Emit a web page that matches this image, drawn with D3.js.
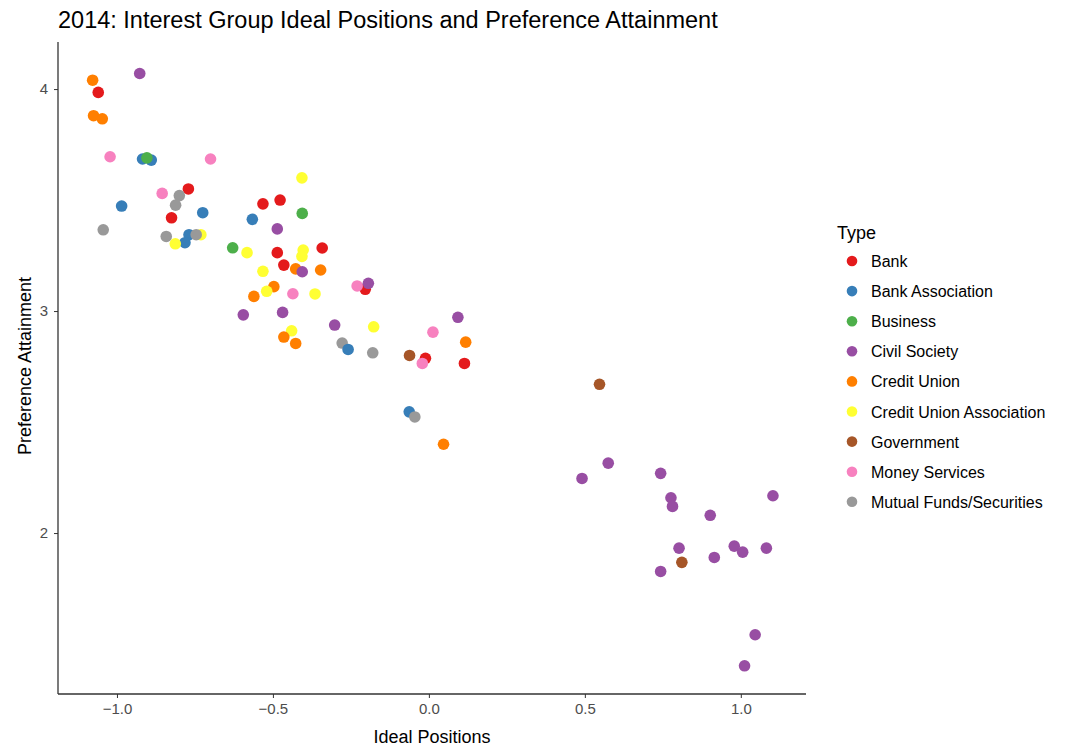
<!DOCTYPE html>
<html>
<head>
<meta charset="utf-8">
<script src="https://cdn.jsdelivr.net/npm/d3@7"></script>
<style>
  body { margin: 0; background: #fff; }
  svg text { font-family: "Liberation Sans", Arial, sans-serif; }
</style>
</head>
<body>
<div id="plot"></div>
<script>
// chart size
var w = 1069;
var h = 749;

// categories and colours (Set1)
var types = ["Bank", "Bank Association", "Business", "Civil Society", "Credit Union",
             "Credit Union Association", "Government", "Money Services", "Mutual Funds/Securities"];
var typeColors = ["#e41a1c", "#377eb8", "#4daf4a", "#984ea3", "#ff7f00",
                  "#ffff33", "#a65628", "#f781bf", "#999999"];

// points, in drawing order
var pointType = [
  "Credit Union", "Bank", "Civil Society", "Credit Union", "Credit Union",
  "Money Services", "Bank Association", "Bank Association", "Business", "Money Services",
  "Credit Union Association", "Money Services", "Bank", "Mutual Funds/Securities", "Mutual Funds/Securities",
  "Bank Association", "Bank", "Bank", "Bank", "Bank Association",
  "Bank Association", "Business", "Civil Society", "Mutual Funds/Securities", "Mutual Funds/Securities",
  "Bank Association", "Bank Association", "Credit Union Association", "Mutual Funds/Securities", "Credit Union Association",
  "Business", "Credit Union Association", "Bank", "Credit Union Association", "Credit Union Association",
  "Bank", "Bank", "Credit Union Association", "Credit Union", "Civil Society",
  "Credit Union", "Credit Union", "Credit Union Association", "Credit Union", "Money Services",
  "Credit Union Association", "Bank", "Money Services", "Civil Society", "Civil Society",
  "Civil Society", "Civil Society", "Credit Union Association", "Credit Union", "Credit Union",
  "Credit Union Association", "Mutual Funds/Securities", "Bank Association", "Mutual Funds/Securities", "Civil Society",
  "Money Services", "Credit Union", "Government", "Bank", "Money Services",
  "Bank", "Bank Association", "Mutual Funds/Securities", "Credit Union", "Government",
  "Civil Society", "Civil Society", "Civil Society", "Civil Society", "Civil Society",
  "Civil Society", "Civil Society", "Civil Society", "Civil Society", "Civil Society",
  "Civil Society", "Civil Society", "Government", "Civil Society", "Civil Society",
  "Civil Society"
];
var idealPos = [
  -1.078, -1.060, -0.927, -1.075, -1.047,
  -1.022, -0.918, -0.890, -0.904, -0.700,
  -0.407, -0.855, -0.771, -0.800, -0.812,
  -0.985, -0.532, -0.477, -0.825, -0.725,
  -0.566, -0.406, -0.486, -1.044, -0.842,
  -0.769, -0.782, -0.731, -0.746, -0.813,
  -0.629, -0.583, -0.486, -0.403, -0.407,
  -0.342, -0.465, -0.532, -0.427, -0.406,
  -0.347, -0.497, -0.520, -0.561, -0.436,
  -0.365, -0.204, -0.230, -0.194, -0.595,
  -0.469, -0.302, -0.440, -0.465, -0.427,
  -0.177, -0.278, -0.259, -0.180, 0.093,
  0.013, 0.118, -0.062, -0.011, -0.021,
  0.114, -0.063, -0.045, 0.047, 0.547,
  0.575, 0.491, 0.743, 0.776, 0.781,
  1.103, 0.902, 0.802, 0.979, 1.006,
  1.082, 0.915, 0.811, 0.743, 1.046,
  1.012
];
var prefAtt = [
  4.040, 3.985, 4.070, 3.880, 3.866,
  3.695, 3.685, 3.680, 3.690, 3.685,
  3.600, 3.530, 3.550, 3.520, 3.477,
  3.473, 3.483, 3.500, 3.420, 3.443,
  3.413, 3.440, 3.370, 3.366, 3.336,
  3.344, 3.308, 3.344, 3.344, 3.303,
  3.285, 3.263, 3.263, 3.275, 3.246,
  3.284, 3.207, 3.179, 3.190, 3.177,
  3.185, 3.110, 3.089, 3.066, 3.078,
  3.077, 3.098, 3.113, 3.125, 2.983,
  2.994, 2.937, 2.911, 2.883, 2.854,
  2.929, 2.856, 2.827, 2.812, 2.972,
  2.905, 2.860, 2.800, 2.787, 2.764,
  2.764, 2.546, 2.523, 2.400, 2.670,
  2.315, 2.246, 2.269, 2.159, 2.120,
  2.168, 2.080, 1.932, 1.941, 1.914,
  1.932, 1.890, 1.868, 1.827, 1.542,
  1.402
];

// axis ticks
var xTicks = [-1.0, -0.5, 0.0, 0.5, 1.0];
var yTicks = [2, 3, 4];

var data = pointType.map(function(t, i) {
  return { type: t, x: idealPos[i], y: prefAtt[i] };
});

var panel = { left: 58, right: 806, top: 42, bottom: 694 };

var xScale = d3.scaleLinear()
  .domain([-1.189, 1.209])
  .range([panel.left, panel.right]);

var yScale = d3.scaleLinear()
  .domain([1.275, 4.212])
  .range([panel.bottom, panel.top]);

var cScale = d3.scaleOrdinal()
  .domain(types)
  .range(typeColors);

var svg = d3.select("#plot")
  .append("svg")
  .attr("width", w)
  .attr("height", h);

// title
svg.append("text")
  .attr("x", 58)
  .attr("y", 28)
  .style("font-size", "23.5px")
  .style("fill", "#000")
  .text("2014: Interest Group Ideal Positions and Preference Attainment");

// x axis
var xAxis = d3.axisBottom(xScale)
  .tickValues(xTicks)
  .tickFormat(d3.format(".1f"))
  .tickSizeInner(4)
  .tickSizeOuter(0)
  .tickPadding(5);

var gx = svg.append("g")
  .attr("transform", "translate(0," + panel.bottom + ")")
  .call(xAxis);
gx.select(".domain").remove();
gx.append("line")
  .attr("x1", panel.left).attr("x2", panel.right)
  .attr("stroke", "#333").attr("stroke-width", 1.3);
gx.selectAll(".tick line").attr("stroke", "#333");
gx.selectAll(".tick text")
  .style("font-size", "15px")
  .style("fill", "#4d4d4d")
  .style("font-family", "Liberation Sans, Arial, sans-serif");

// y axis
var yAxis = d3.axisLeft(yScale)
  .tickValues(yTicks)
  .tickFormat(d3.format("d"))
  .tickSizeInner(4)
  .tickSizeOuter(0)
  .tickPadding(6);

var gy = svg.append("g")
  .attr("transform", "translate(" + panel.left + ",0)")
  .call(yAxis);
gy.select(".domain").remove();
gy.append("line")
  .attr("y1", panel.top).attr("y2", panel.bottom)
  .attr("stroke", "#333").attr("stroke-width", 1.3);
gy.selectAll(".tick line").attr("stroke", "#333");
gy.selectAll(".tick text")
  .style("font-size", "15px")
  .style("fill", "#4d4d4d")
  .style("font-family", "Liberation Sans, Arial, sans-serif");

// axis titles
svg.append("text")
  .attr("x", 432)
  .attr("y", 743)
  .attr("text-anchor", "middle")
  .style("font-size", "18px")
  .text("Ideal Positions");

svg.append("text")
  .attr("transform", "translate(31,366) rotate(-90)")
  .attr("text-anchor", "middle")
  .style("font-size", "18px")
  .text("Preference Attainment");

// points
svg.append("g")
  .selectAll("circle")
  .data(data)
  .enter()
  .append("circle")
  .attr("cx", function(d) { return xScale(d.x); })
  .attr("cy", function(d) { return yScale(d.y); })
  .attr("r", 5.8)
  .style("fill", function(d) { return cScale(d.type); });

// legend
var legend = svg.append("g")
  .attr("transform", "translate(837,0)");

legend.append("text")
  .attr("x", 0)
  .attr("y", 239)
  .style("font-size", "18px")
  .text("Type");

var items = legend.selectAll("g.item")
  .data(types)
  .enter()
  .append("g")
  .attr("class", "item")
  .attr("transform", function(d, i) { return "translate(0," + (261 + i * 30.1) + ")"; });

items.append("circle")
  .attr("cx", 15)
  .attr("cy", 0)
  .attr("r", 5.3)
  .style("fill", function(d) { return cScale(d); });

items.append("text")
  .attr("x", 34)
  .attr("y", 6)
  .style("font-size", "16px")
  .style("fill", "#000")
  .text(function(d) { return d; });
</script>
</body>
</html>
